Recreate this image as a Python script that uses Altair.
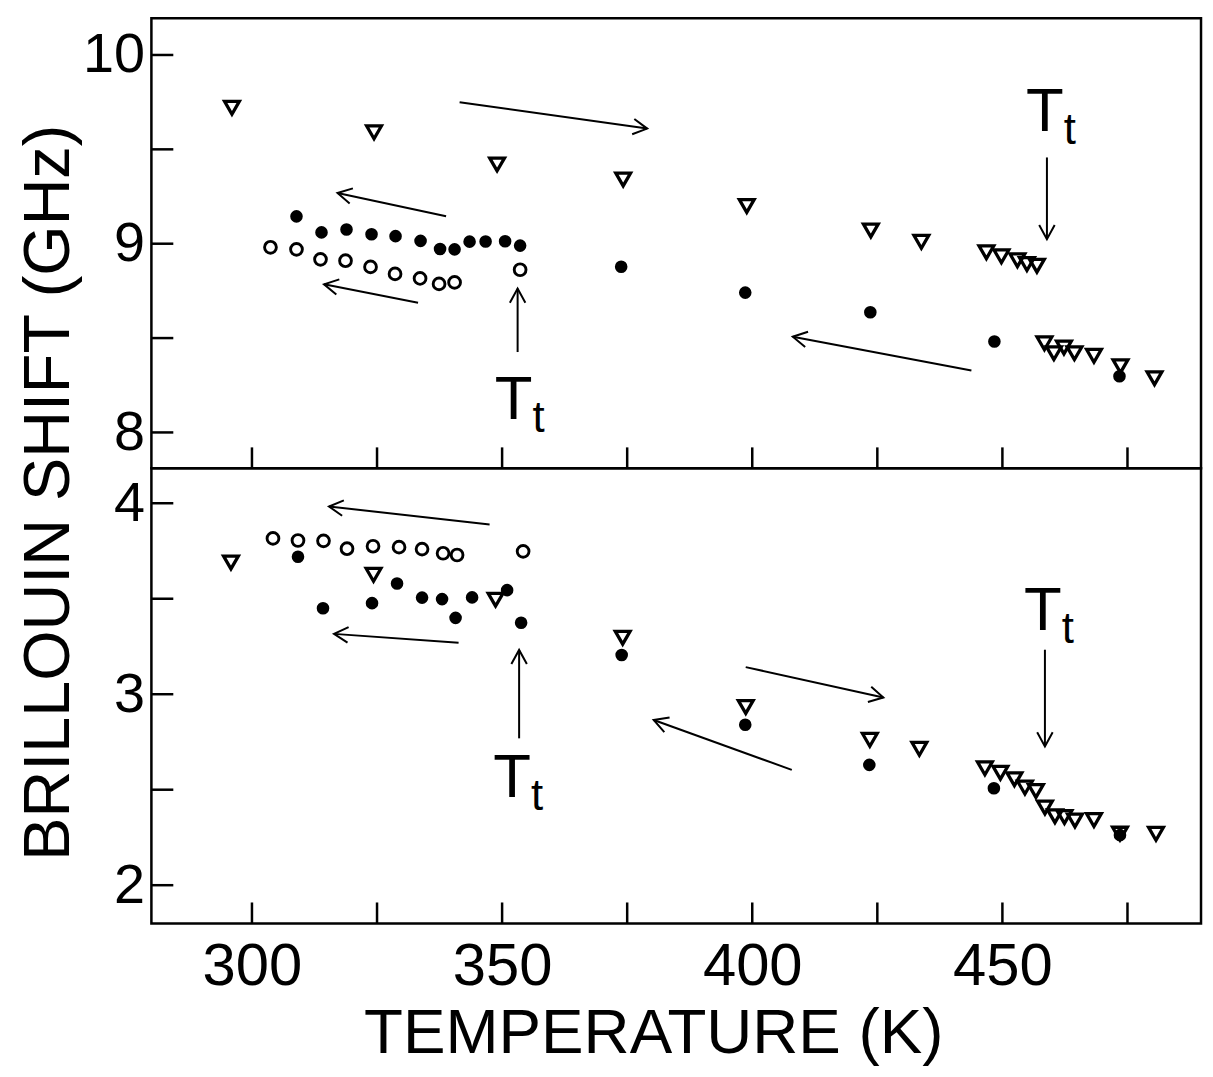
import math
import altair as alt
import pandas as pd

# ------------------------------------------------------------------ data
# upper panel (GHz 7.8 - 10.2)
top_tri_T = [296.0, 324.4, 349.0, 374.2, 398.9, 423.7, 433.8, 446.8, 449.8, 453.0, 454.9, 456.9,
             458.4, 460.3, 462.3, 464.4, 468.3, 473.6, 480.4]
top_tri_B = [9.72, 9.59, 9.42, 9.34, 9.20, 9.07, 9.01, 8.955, 8.933, 8.912, 8.892, 8.883,
             8.472, 8.42, 8.45, 8.42, 8.406, 8.351, 8.287]
top_fill_T = [308.9, 313.9, 318.9, 323.9, 328.7, 333.7, 337.6, 340.5, 343.5, 346.7, 350.6, 353.6,
              373.8, 398.6, 423.6, 448.4, 473.4]
top_fill_B = [9.145, 9.06, 9.075, 9.05, 9.04, 9.015, 8.972, 8.97, 9.011, 9.012, 9.013, 8.99,
              8.878, 8.741, 8.637, 8.482, 8.298]
top_open_T = [303.7, 308.9, 313.7, 318.7, 323.7, 328.6, 333.6, 337.4, 340.5, 353.6]
top_open_B = [8.981, 8.97, 8.917, 8.91, 8.877, 8.84, 8.816, 8.787, 8.795, 8.862]

# lower panel (GHz 1.8 - 4.2)
bot_tri_T = [295.8, 324.3, 348.7, 374.1, 398.7, 423.5, 433.4, 446.5, 449.6, 452.4, 454.5, 456.7,
             458.5, 460.5, 462.4, 464.5, 468.3, 473.5, 480.7]
bot_tri_B = [3.69, 3.625, 3.495, 3.296, 2.933, 2.761, 2.714, 2.612, 2.589, 2.555, 2.511, 2.493,
             2.407, 2.361, 2.357, 2.339, 2.341, 2.27, 2.269]
bot_fill_T = [309.2, 314.2, 324.0, 329.0, 334.0, 338.0, 340.7, 344.0, 351.0, 353.8, 373.9, 398.6,
              423.4, 448.3, 473.5]
bot_fill_B = [3.72, 3.45, 3.477, 3.58, 3.506, 3.498, 3.40, 3.507, 3.545, 3.374, 3.205, 2.84,
              2.63, 2.508, 2.262]
bot_open_T = [304.2, 309.2, 314.3, 319.0, 324.2, 329.4, 334.0, 338.2, 341.0, 354.2]
bot_open_B = [3.816, 3.805, 3.803, 3.762, 3.775, 3.770, 3.760, 3.738, 3.729, 3.748]

# annotation arrows: start (T, GHz) -> head (T, GHz)
top_arrow_x1 = [341.5, 338.8, 333.2, 443.8, 353.1, 458.9]
top_arrow_y1 = [9.75, 9.145, 8.687, 8.328, 8.426, 9.457]
top_arrow_x2 = [379.0, 317.1, 314.4, 408.1, 353.1, 458.9]
top_arrow_y2 = [9.61, 9.269, 8.785, 8.507, 8.762, 9.024]
bot_arrow_x1 = [347.5, 341.3, 398.7, 407.9, 353.4, 458.5]
bot_arrow_y1 = [3.889, 3.270, 3.142, 2.604, 2.769, 3.233]
bot_arrow_x2 = [315.4, 316.4, 426.2, 380.3, 353.4, 458.5]
bot_arrow_y2 = [3.983, 3.316, 2.983, 2.865, 3.232, 2.727]

# "T_t" labels (position of the T)
top_tt_x = [352.3, 458.5]
top_tt_y = [8.072, 9.599]
bot_tt_x = [352.0, 458.1]
bot_tt_y = [2.462, 3.338]

x_ticks = [300, 325, 350, 375, 400, 425, 450, 475]
x_labels = [300, 350, 400, 450]
top_y_ticks = [8, 8.5, 9, 9.5, 10]
top_y_labels = [8, 9, 10]
bot_y_ticks = [2, 2.5, 3, 3.5, 4]
bot_y_labels = [2, 3, 4]

X_DOM = [279.9, 489.7]
TOP_DOM = [7.81, 10.195]
BOT_DOM = [1.80, 4.183]

# ------------------------------------------------------------------ layout
W = 1054
H_TOP = 452
H_BOT = 457
SANS = "Liberation Sans, Arial, Helvetica"
ARROW_HEAD = "M-1,-0.55L0,0L-1,0.55"


def arrow_df(x1, y1, x2, y2, ydom, h):
    xs = W / (X_DOM[1] - X_DOM[0])
    ys = h / (ydom[1] - ydom[0])
    rows = []
    for a, b, c, d in zip(x1, y1, x2, y2):
        ang = math.degrees(math.atan2(-(d - b) * ys, (c - a) * xs)) % 360
        rows.append({"x1": a, "y1": b, "x2": c, "y2": d, "ang": ang})
    return pd.DataFrame(rows)


def panel(tri_T, tri_B, fill_T, fill_B, open_T, open_B, ax1, ay1, ax2, ay2,
          tt_x, tt_y, ydom, h, y_ticks, y_labels, bottom, ytitle):
    xscale = alt.Scale(domain=X_DOM, nice=False, zero=False)
    yscale = alt.Scale(domain=ydom, nice=False, zero=False)
    if bottom:
        xaxis = alt.Axis(values=x_labels, tickSize=0, labelPadding=14, labelFontSize=60,
                         labelFont=SANS, labelColor="black", format="d",
                         title="TEMPERATURE (K)", titleFont=SANS, titleFontSize=64,
                         titleFontWeight="normal", titleColor="black", titlePadding=6,
                         titleX=504, titleAlign="center",
                         domain=False, grid=False)
    else:
        xaxis = alt.Axis(labels=False, ticks=False, title=None, domain=False, grid=False)
    yargs = dict(values=y_labels, tickSize=0, labelPadding=7, labelFontSize=56, labelFont=SANS,
                 labelColor="black", format="d", domain=False, grid=False)
    if ytitle:
        yargs.update(title="BRILLOUIN SHIFT (GHz)", titleFont=SANS, titleFontSize=65,
                     titleFontWeight="normal", titleColor="black", titleY=476, titlePadding=0)
    else:
        yargs.update(title=None)
    yaxis = alt.Axis(**yargs)

    def X(f):
        return alt.X(f, type="quantitative", scale=xscale, axis=xaxis)

    def Y(f):
        return alt.Y(f, type="quantitative", scale=yscale, axis=yaxis)

    tri = pd.DataFrame({"T": tri_T, "B": tri_B})
    fil = pd.DataFrame({"T": fill_T, "B": fill_B})
    opn = pd.DataFrame({"T": open_T, "B": open_B})
    arr = arrow_df(ax1, ay1, ax2, ay2, ydom, h)
    tt = pd.DataFrame({"T": tt_x, "B": tt_y})
    xt = pd.DataFrame({"t": x_ticks})
    yt = pd.DataFrame({"v": y_ticks})

    layers = [
        alt.Chart(tri).mark_point(shape="triangle-down", size=220, strokeWidth=3.3, filled=False,
                                  color="black", opacity=1).encode(x=X("T"), y=Y("B")),
        alt.Chart(fil).mark_circle(size=160, color="black", opacity=1).encode(x=X("T"), y=Y("B")),
        alt.Chart(opn).mark_point(shape="circle", size=140, strokeWidth=2.9, filled=False,
                                  color="black", opacity=1).encode(x=X("T"), y=Y("B")),
        alt.Chart(arr).mark_rule(strokeWidth=2, color="black").encode(
            x=X("x1"), x2="x2", y=Y("y1"), y2="y2"),
        alt.Chart(arr).mark_point(shape=ARROW_HEAD, size=800, strokeWidth=2, filled=False,
                                  color="black", opacity=1).encode(
            x=X("x2"), y=Y("y2"), angle=alt.Angle("ang:Q", scale=None)),
        alt.Chart(tt).mark_text(text="T", font=SANS, fontSize=62, baseline="alphabetic",
                                align="center", color="black").encode(x=X("T"), y=Y("B")),
        alt.Chart(tt).mark_text(text="t", font=SANS, fontSize=44, baseline="alphabetic",
                                align="center", dx=25, dy=13, color="black").encode(
            x=X("T"), y=Y("B")),
        alt.Chart(xt).mark_rule(strokeWidth=2.5, color="black").encode(
            x=X("t"), y=alt.value(h), y2=alt.value(h - 21)),
        alt.Chart(yt).mark_rule(strokeWidth=2.5, color="black").encode(
            y=Y("v"), x=alt.value(0), x2=alt.value(22)),
    ]
    return alt.layer(*layers).properties(width=W, height=h)


top = panel(top_tri_T, top_tri_B, top_fill_T, top_fill_B, top_open_T, top_open_B,
            top_arrow_x1, top_arrow_y1, top_arrow_x2, top_arrow_y2, top_tt_x, top_tt_y,
            TOP_DOM, H_TOP, top_y_ticks, top_y_labels, bottom=False, ytitle=True)
bot = panel(bot_tri_T, bot_tri_B, bot_fill_T, bot_fill_B, bot_open_T, bot_open_B,
            bot_arrow_x1, bot_arrow_y1, bot_arrow_x2, bot_arrow_y2, bot_tt_x, bot_tt_y,
            BOT_DOM, H_BOT, bot_y_ticks, bot_y_labels, bottom=True, ytitle=False)

chart = alt.vconcat(top, bot, spacing=0, bounds="flush").properties(
    padding={"left": 7, "top": 6, "right": 2, "bottom": 0}
).configure(background="white").configure_view(stroke="black", strokeWidth=2.5)

chart.save("out.html", embed_options={"renderer": "svg", "actions": False})
